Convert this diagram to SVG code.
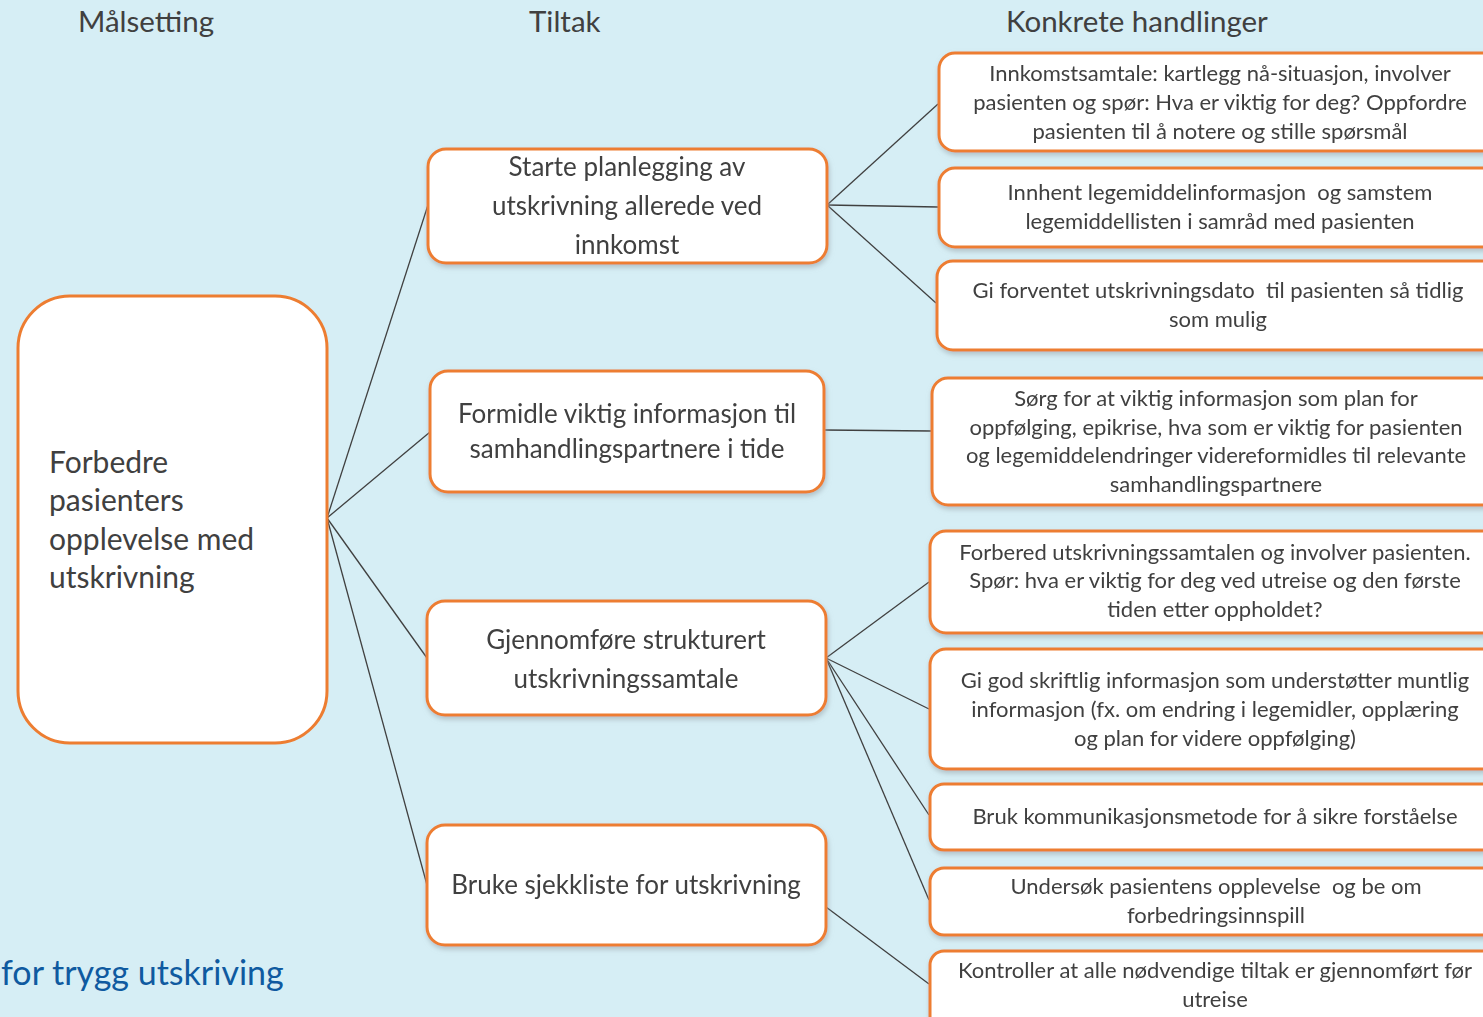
<svg xmlns="http://www.w3.org/2000/svg" width="1483" height="1017" viewBox="0 0 1483 1017">
<style>
.bg{fill:#d6eef5}
.box{fill:#ffffff;stroke:#ed7d31;stroke-width:3}
.conn{stroke:#404040;stroke-width:1.3;fill:none}
.t{font-family:Lato,"Liberation Sans",sans-serif;fill:#404040;text-anchor:middle}
.pre{white-space:pre}
.h{font-family:Lato,"Liberation Sans",sans-serif;fill:#404040;font-size:29.5px}
.s{font-size:22px}
.m{font-size:26px}
.l{font-family:Lato,"Liberation Sans",sans-serif;fill:#404040;font-size:30px}
.blue{font-family:Lato,"Liberation Sans",sans-serif;fill:#0f5aa0;font-size:34px}
</style>
<defs>
<filter id="sh" x="-5%" y="-10%" width="110%" height="130%">
<feDropShadow dx="1" dy="3" stdDeviation="2.5" flood-color="#9aa6ab" flood-opacity="0.6"/>
</filter>
</defs>
<rect class="bg" x="0" y="0" width="1483" height="1017"/>

<g id="headers">
<text class="h" x="78" y="32">Målsetting</text>
<text class="h" x="529" y="32">Tiltak</text>
<text class="h" x="1006" y="32">Konkrete handlinger</text>
</g>

<g id="connectors">
<line class="conn" x1="327" y1="518" x2="428" y2="205"/>
<line class="conn" x1="327" y1="518" x2="430" y2="432"/>
<line class="conn" x1="327" y1="518" x2="427" y2="658"/>
<line class="conn" x1="327" y1="518" x2="427" y2="885"/>
<line class="conn" x1="827" y1="205" x2="938" y2="104"/>
<line class="conn" x1="827" y1="205" x2="938" y2="207"/>
<line class="conn" x1="827" y1="205" x2="936" y2="303"/>
<line class="conn" x1="824" y1="430" x2="931" y2="431"/>
<line class="conn" x1="826" y1="658" x2="929" y2="582"/>
<line class="conn" x1="826" y1="658" x2="929" y2="709"/>
<line class="conn" x1="826" y1="658" x2="929" y2="815"/>
<line class="conn" x1="826" y1="658" x2="929" y2="900"/>
<line class="conn" x1="826" y1="907" x2="929" y2="984"/>
</g>

<g id="goal">
<rect class="box" x="18" y="296" width="309" height="447" rx="52"/>
<text class="l" x="49" y="473">Forbedre</text>
<text class="l" x="49" y="511">pasienters</text>
<text class="l" x="49" y="550">opplevelse med</text>
<text class="l" x="49" y="588">utskrivning</text>
</g>

<g id="tiltak1" filter="url(#sh)">
<rect class="box" x="428" y="149" width="399" height="114" rx="18"/>
<text class="t m" x="627" y="176">Starte planlegging av</text>
<text class="t m" x="627" y="215">utskrivning allerede ved</text>
<text class="t m" x="627" y="254">innkomst</text>
</g>
<g id="tiltak2" filter="url(#sh)">
<rect class="box" x="430" y="371" width="394" height="121" rx="18"/>
<text class="t m" x="627" y="423">Formidle viktig informasjon til</text>
<text class="t m" x="627" y="458">samhandlingspartnere i tide</text>
</g>
<g id="tiltak3" filter="url(#sh)">
<rect class="box" x="427" y="601" width="399" height="114" rx="18"/>
<text class="t m" x="626" y="649">Gjennomføre strukturert</text>
<text class="t m" x="626" y="688">utskrivningssamtale</text>
</g>
<g id="tiltak4" filter="url(#sh)">
<rect class="box" x="427" y="825" width="399" height="120" rx="18"/>
<text class="t m" x="626" y="894">Bruke sjekkliste for utskrivning</text>
</g>

<g id="h1" filter="url(#sh)">
<rect class="box" x="939" y="53" width="560" height="98" rx="16"/>
<text class="t s" x="1220" y="81">Innkomstsamtale: kartlegg nå-situasjon, involver</text>
<text class="t s" x="1220" y="110">pasienten og spør: Hva er viktig for deg? Oppfordre</text>
<text class="t s" x="1220" y="139">pasienten til å notere og stille spørsmål</text>
</g>
<g id="h2" filter="url(#sh)">
<rect class="box" x="939" y="168" width="560" height="79" rx="16"/>
<text class="t s pre" x="1220" y="200">Innhent legemiddelinformasjon  og samstem</text>
<text class="t s" x="1220" y="229">legemiddellisten i samråd med pasienten</text>
</g>
<g id="h3" filter="url(#sh)">
<rect class="box" x="937" y="261" width="562" height="89" rx="16"/>
<text class="t s pre" x="1218" y="298">Gi forventet utskrivningsdato  til pasienten så tidlig</text>
<text class="t s" x="1218" y="327">som mulig</text>
</g>
<g id="h4" filter="url(#sh)">
<rect class="box" x="932" y="378" width="567" height="127" rx="16"/>
<text class="t s" x="1216" y="406">Sørg for at viktig informasjon som plan for</text>
<text class="t s" x="1216" y="435">oppfølging, epikrise, hva som er viktig for pasienten</text>
<text class="t s" x="1216" y="463">og legemiddelendringer videreformidles til relevante</text>
<text class="t s" x="1216" y="492">samhandlingspartnere</text>
</g>
<g id="h5" filter="url(#sh)">
<rect class="box" x="930" y="531" width="569" height="102" rx="16"/>
<text class="t s" x="1215" y="560">Forbered utskrivningssamtalen og involver pasienten.</text>
<text class="t s" x="1215" y="588">Spør: hva er viktig for deg ved utreise og den første</text>
<text class="t s" x="1215" y="617">tiden etter oppholdet?</text>
</g>
<g id="h6" filter="url(#sh)">
<rect class="box" x="930" y="649" width="569" height="120" rx="16"/>
<text class="t s" x="1215" y="688">Gi god skriftlig informasjon som understøtter muntlig</text>
<text class="t s" x="1215" y="717">informasjon (fx. om endring i legemidler, opplæring</text>
<text class="t s" x="1215" y="746">og plan for videre oppfølging)</text>
</g>
<g id="h7" filter="url(#sh)">
<rect class="box" x="930" y="784" width="569" height="66" rx="14"/>
<text class="t s" x="1215" y="824">Bruk kommunikasjonsmetode for å sikre forståelse</text>
</g>
<g id="h8" filter="url(#sh)">
<rect class="box" x="930" y="868" width="569" height="67" rx="14"/>
<text class="t s pre" x="1216" y="894">Undersøk pasientens opplevelse  og be om</text>
<text class="t s" x="1216" y="923">forbedringsinnspill</text>
</g>
<g id="h9" filter="url(#sh)">
<rect class="box" x="930" y="951" width="569" height="80" rx="14"/>
<text class="t s" x="1215" y="978">Kontroller at alle nødvendige tiltak er gjennomført før</text>
<text class="t s" x="1215" y="1007">utreise</text>
</g>

<g id="title">
<text class="blue" x="1" y="985">for trygg utskriving</text>
</g>
</svg>
